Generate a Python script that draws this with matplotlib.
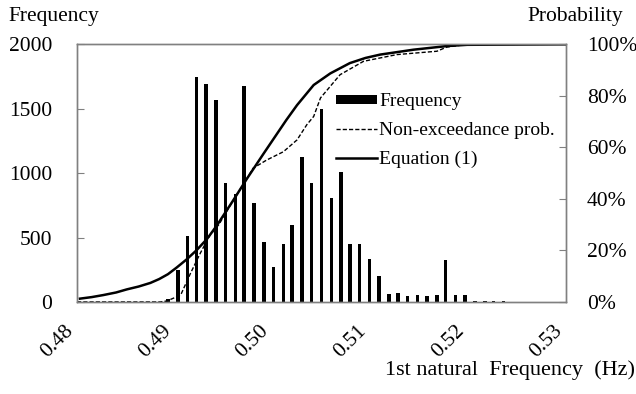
import matplotlib
matplotlib.use('Agg')
from matplotlib import pyplot as plt
from matplotlib.ticker import FuncFormatter
import matplotlib.transforms as mtransforms

plt.rcParams['font.family'] = ['Liberation Serif', 'DejaVu Serif']
plt.rcParams['font.size'] = 15.5

# гистограмма: центры интервалов (Гц) и число случаев
bin_centers = [0.4893, 0.4903, 0.4913, 0.4922, 0.4932, 0.4942, 0.4952, 0.4962, 0.4971,
               0.4981, 0.4991, 0.5001, 0.5011, 0.5020, 0.5030, 0.5040, 0.5050, 0.5060,
               0.5070, 0.5079, 0.5089, 0.5099, 0.5109, 0.5119, 0.5128, 0.5138, 0.5148,
               0.5158, 0.5168, 0.5177, 0.5187, 0.5197, 0.5207, 0.5217, 0.5226, 0.5236]
counts = [25, 250, 510, 1750, 1690, 1565, 920, 835, 1680,
          765, 466, 268, 450, 594, 1128, 922, 1500, 805,
          1005, 450, 450, 333, 203, 65, 70, 47, 57,
          47, 52, 328, 52, 52, 8, 8, 8, 8]

# эмпирическая вероятность непревышения
nonexc_f = [0.4800, 0.4885, 0.4892, 0.4906, 0.4916, 0.4926, 0.4936, 0.4945, 0.4960,
            0.4974, 0.4980, 0.4994, 0.5011, 0.5025, 0.5035, 0.5042, 0.5049, 0.5069,
            0.5093, 0.5127, 0.5168, 0.5178, 0.5199, 0.5300]
nonexc_p = [0.0, 0.0, 0.004, 0.027, 0.111, 0.189, 0.26, 0.30, 0.396,
            0.48, 0.519, 0.551, 0.583, 0.629, 0.688, 0.72, 0.792, 0.882,
            0.934, 0.96, 0.973, 0.989, 1.0, 1.0]

# кривая по уравнению (1)
eq_f = [0.4803, 0.4815, 0.4827, 0.4840, 0.4851, 0.4863, 0.4875, 0.4884, 0.4893,
        0.4902, 0.4912, 0.4922, 0.4933, 0.4943, 0.4960, 0.4974, 0.4991, 0.5014,
        0.5025, 0.5042, 0.5059, 0.5079, 0.5095, 0.5110, 0.5144, 0.5178, 0.5199, 0.5300]
eq_p = [0.013, 0.019, 0.027, 0.037, 0.049, 0.060, 0.074, 0.089, 0.108,
        0.134, 0.165, 0.20, 0.245, 0.297, 0.396, 0.48, 0.577, 0.706,
        0.764, 0.842, 0.887, 0.927, 0.947, 0.96, 0.979, 0.993, 0.998, 1.0]

fig = plt.figure(figsize=(6.36, 3.94), dpi=100)
ax = fig.add_axes([0.1211, 0.2335, 0.7688, 0.6541])
ax2 = ax.twinx()

bars = ax.bar(bin_centers, counts, width=0.00036, color='black', label='Frequency', zorder=2)
l1, = ax2.plot(nonexc_f, nonexc_p, color='black', lw=1.0, ls=(0, (3, 1.5)),
               label='Non-exceedance prob.')
l2, = ax2.plot(eq_f, eq_p, color='black', lw=1.8, label='Equation (1)')

ax.set_xlim(0.48, 0.53)
ax.set_ylim(0, 2000)
ax2.set_ylim(0, 1)
ax.set_yticks([0, 500, 1000, 1500, 2000])
ax2.set_yticks([0, 0.2, 0.4, 0.6, 0.8, 1.0])
ax2.yaxis.set_major_formatter(FuncFormatter(lambda v, _: f'{v * 100:.0f}%'))
ax.set_xticks([0.48, 0.49, 0.50, 0.51, 0.52, 0.53])
ax.set_xticklabels(['0.48', '0.49', '0.50', '0.51', '0.52', '0.53'], rotation=45, ha='right')
shift = mtransforms.ScaledTranslation(5 / 100, 0, fig.dpi_scale_trans)
for lab in ax.get_xticklabels():
    lab.set_transform(lab.get_transform() + shift)

ax.tick_params(axis='x', length=0, pad=14)
ax.tick_params(axis='y', direction='in', length=5, color='#808080', pad=18)
ax2.tick_params(axis='y', direction='in', length=5, color='#808080', pad=15)

for a in (ax, ax2):
    for s in a.spines.values():
        s.set_color('#808080')
        s.set_linewidth(1.0)

fig.text(0.013, 0.957, 'Frequency', ha='left', va='center')
fig.text(0.98, 0.957, 'Probability', ha='right', va='center')
fig.text(0.9985, 0.06, '1st natural  Frequency  (Hz)', ha='right', va='center', fontsize=16)

ax2.legend([bars, l1, l2], ['Frequency', 'Non-exceedance prob.', 'Equation (1)'],
           loc='upper left', bbox_to_anchor=(0.53, 0.81), frameon=False, fontsize=14,
           borderpad=0, borderaxespad=0, handlelength=2.1, handletextpad=0.1,
           handleheight=0.35, labelspacing=0.6)

fig.savefig('out.png', dpi=100)
